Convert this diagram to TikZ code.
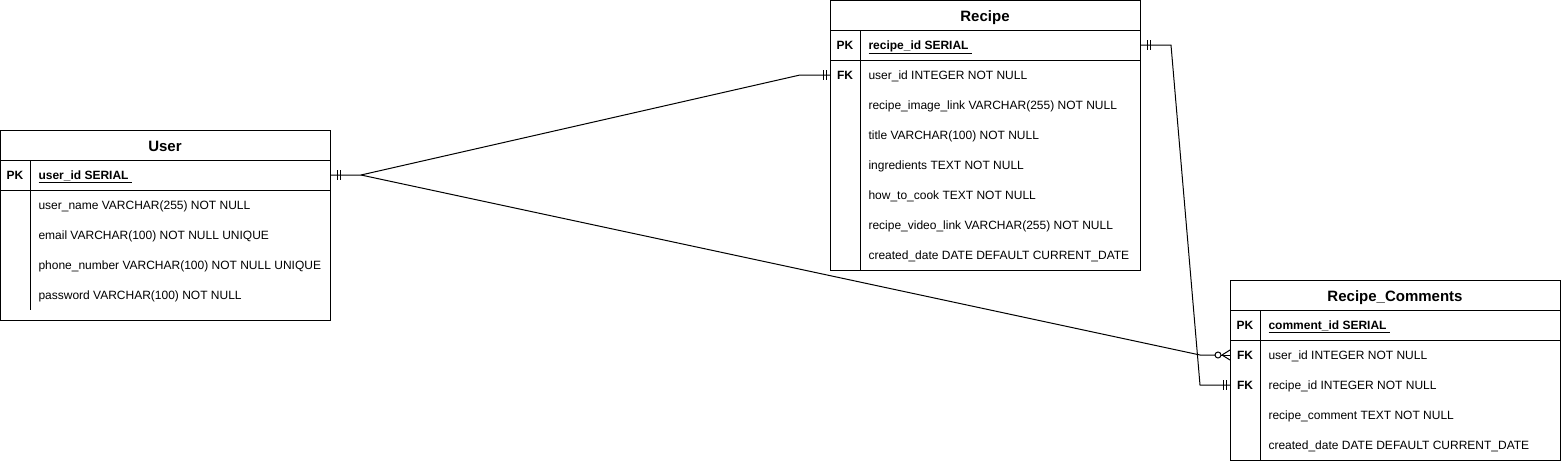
\documentclass[tikz,border=0pt]{standalone}
\usepackage{fontspec}
\setmainfont{Liberation Sans}
\usetikzlibrary{calc}
\def\twobars(#1)(#2:#3){\draw ($(#1)+(#2,-5)$) -- ++(0,10); \draw ($(#1)+(#3,-5)$) -- ++(0,10);}
\tikzset{
	tbl/.style={draw, line width=1pt, anchor=north west, inner sep=0pt},
	field/.style={anchor=west, inner sep=0pt, text height=8.6pt, text depth=0pt, font=\fontsize{12}{14}\selectfont},
	keycell/.style={inner sep=0pt, text height=8.6pt, text depth=0pt, font=\fontsize{12}{14}\selectfont\bfseries},
	tabletitle/.style={inner sep=0pt, text height=10.7pt, text depth=0pt, font=\fontsize{15}{18}\selectfont\bfseries}
}

\begin{document}
\begin{tikzpicture}[x=1pt, y=-1pt, line width=1pt]
		%%%%% START %%%%%
		\useasboundingbox (0,0) rectangle (1561,461);
		
		% User
		\node[tbl, minimum width=330pt, minimum height=190pt] (user) at (0,130) {};
		\node[tabletitle] (usertitle) at (165,146) {User};
		\draw (0,160) -- (330,160);
		\draw (0,190) -- (330,190);
		\draw (30,160) -- (30,310);
		\node[keycell] (userpkkey) at (15,175) {PK};
		\node[field, font=\fontsize{12}{14}\selectfont\bfseries] (userpk) at (38,175) {\underline{user\_id SERIAL\ }};
		\node[field] (user1) at (38,205) {user\_name VARCHAR(255) NOT NULL};
		\node[field] (user2) at (38,235) {email VARCHAR(100) NOT NULL UNIQUE};
		\node[field] (user3) at (38,265) {phone\_number VARCHAR(100) NOT NULL UNIQUE};
		\node[field] (user4) at (38,295) {password VARCHAR(100) NOT NULL};
		
		% Recipe
		\node[tbl, minimum width=310pt, minimum height=270pt] (recipe) at (830,0) {};
		\node[tabletitle] (recipetitle) at (985,16) {Recipe};
		\draw (830,30) -- (1140,30);
		\draw (830,60) -- (1140,60);
		\draw (860,30) -- (860,270);
		\node[keycell] (recipepkkey) at (845,45) {PK};
		\node[field, font=\fontsize{12}{14}\selectfont\bfseries] (recipepk) at (868,45) {\underline{recipe\_id SERIAL\ }};
		\node[keycell] (recipefkkey) at (845,75) {FK};
		\node[field] (recipefk) at (868,75) {user\_id INTEGER NOT NULL};
		\node[field] (recipe2) at (868,105) {recipe\_image\_link VARCHAR(255) NOT NULL};
		\node[field] (recipe3) at (868,135) {title VARCHAR(100) NOT NULL};
		\node[field] (recipe4) at (868,165) {ingredients TEXT NOT NULL};
		\node[field] (recipe5) at (868,195) {how\_to\_cook TEXT NOT NULL};
		\node[field] (recipe6) at (868,225) {recipe\_video\_link VARCHAR(255) NOT NULL};
		\node[field] (recipe7) at (868,255) {created\_date DATE DEFAULT CURRENT\_DATE};
		
		% Recipe_Comments
		\node[tbl, minimum width=330pt, minimum height=180pt] (comments) at (1230,280) {};
		\node[tabletitle] (commentstitle) at (1395,296) {Recipe\_Comments};
		\draw (1230,310) -- (1560,310);
		\draw (1230,340) -- (1560,340);
		\draw (1260,310) -- (1260,460);
		\node[keycell] (commentspkkey) at (1245,325) {PK};
		\node[field, font=\fontsize{12}{14}\selectfont\bfseries] (commentspk) at (1268,325) {\underline{comment\_id SERIAL\ }};
		\node[keycell] (commentsfkakey) at (1245,355) {FK};
		\node[field] (commentsfka) at (1268,355) {user\_id INTEGER NOT NULL};
		\node[keycell] (commentsfkbkey) at (1245,385) {FK};
		\node[field] (commentsfkb) at (1268,385) {recipe\_id INTEGER NOT NULL};
		\node[field] (comments3) at (1268,415) {recipe\_comment TEXT NOT NULL};
		\node[field] (comments4) at (1268,445) {created\_date DATE DEFAULT CURRENT\_DATE};
		
		% relations
		\coordinate (userend) at (user.east |- userpk);
		\coordinate (recipefkend) at (recipe.west |- recipefk);
		\coordinate (recipepkend) at (recipe.east |- recipepk);
		\coordinate (commentsfkaend) at (comments.west |- commentsfka);
		\coordinate (commentsfkbend) at (comments.west |- commentsfkb);
		
		\draw (userend) -- ++(30,0) coordinate (userfork) -- ($(recipefkend)+(-30,0)$) -- (recipefkend);
		\twobars(userend)(6:9);
		\twobars(recipefkend)(-7:-4);
		
		\draw (userfork) -- ($(commentsfkaend)+(-30,0)$) -- ($(commentsfkaend)+(-15,0)$);
		\draw ($(commentsfkaend)+(-12,0)$) circle (3);
		\draw ($(commentsfkaend)+(-9,0)$) -- (commentsfkaend);
		\draw ($(commentsfkaend)+(-8,0)$) -- ($(commentsfkaend)+(0,-5)$);
		\draw ($(commentsfkaend)+(-8,0)$) -- ($(commentsfkaend)+(0,5)$);
		
		\draw (recipepkend) -- ++(30,0) -- ($(commentsfkbend)+(-30,0)$) -- (commentsfkbend);
		\twobars(recipepkend)(6:9);
		\twobars(commentsfkbend)(-7:-4);
		
		%%%%% END %%%%%
\end{tikzpicture}
\end{document}
